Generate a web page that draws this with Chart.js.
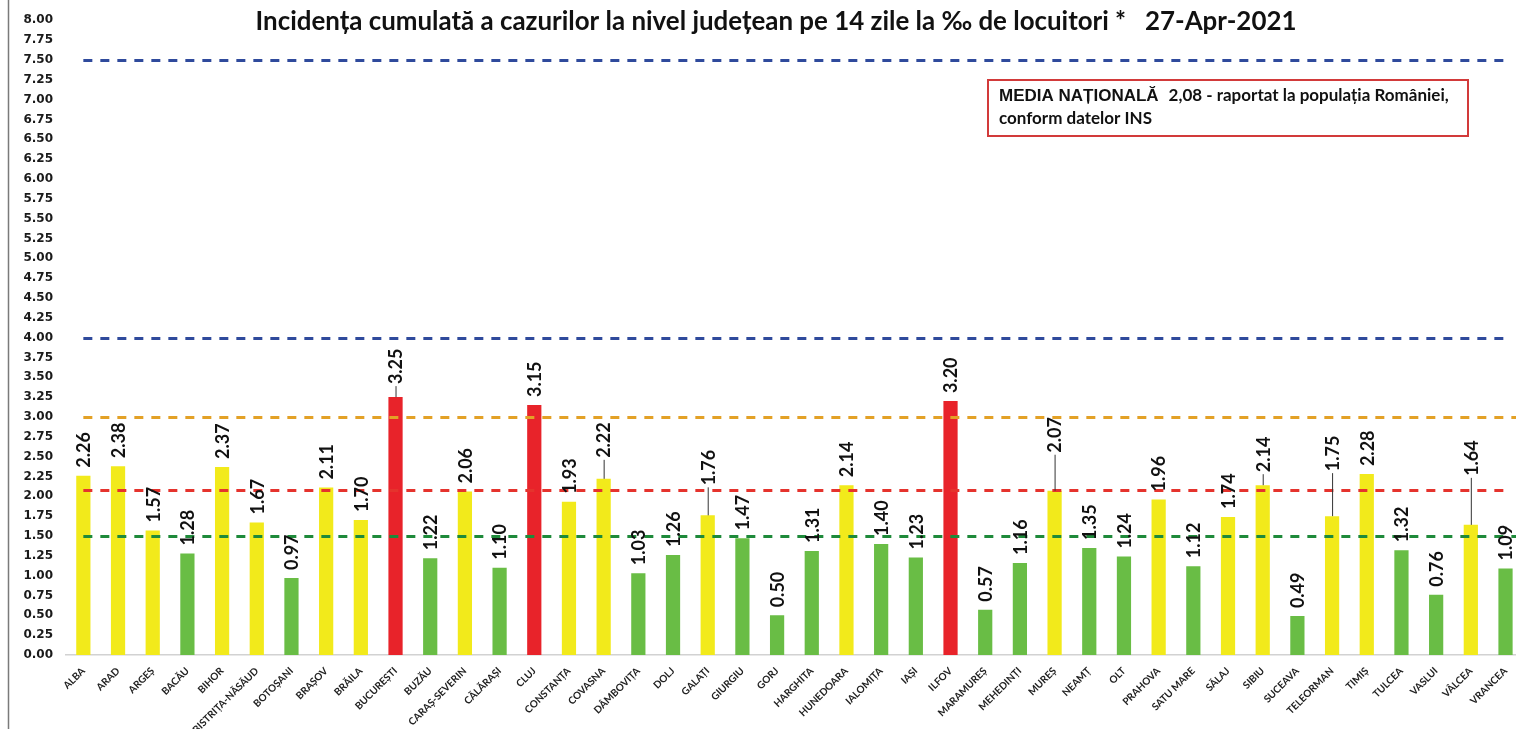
<!DOCTYPE html>
<html>
<head>
<meta charset="utf-8">
<script src="https://cdn.jsdelivr.net/npm/chart.js@4.4.1/dist/chart.umd.min.js"></script>
<style>
  html, body { margin: 0; padding: 0; background: #fff; overflow: hidden; }
  #wrap { position: relative; width: 1524px; height: 729px; }
</style>
</head>
<body>
<div id="wrap"><canvas id="myChart" width="1524" height="729"></canvas></div>
<script>
const judete = ['ALBA', 'ARAD', 'ARGEȘ', 'BACĂU', 'BIHOR', 'BISTRIȚA-NĂSĂUD', 'BOTOȘANI', 'BRAȘOV',
  'BRĂILA', 'BUCUREȘTI', 'BUZĂU', 'CARAȘ-SEVERIN', 'CĂLĂRAȘI', 'CLUJ', 'CONSTANȚA', 'COVASNA',
  'DÂMBOVIȚA', 'DOLJ', 'GALAȚI', 'GIURGIU', 'GORJ', 'HARGHITA', 'HUNEDOARA', 'IALOMIȚA', 'IAȘI',
  'ILFOV', 'MARAMUREȘ', 'MEHEDINȚI', 'MUREȘ', 'NEAMȚ', 'OLT', 'PRAHOVA', 'SATU MARE', 'SĂLAJ',
  'SIBIU', 'SUCEAVA', 'TELEORMAN', 'TIMIȘ', 'TULCEA', 'VASLUI', 'VÂLCEA', 'VRANCEA'];

const incidenta = [2.26, 2.38, 1.57, 1.28, 2.37, 1.67, 0.97, 2.11,
  1.70, 3.25, 1.22, 2.06, 1.10, 3.15, 1.93, 2.22,
  1.03, 1.26, 1.76, 1.47, 0.50, 1.31, 2.14, 1.40, 1.23,
  3.20, 0.57, 1.16, 2.07, 1.35, 1.24, 1.96, 1.12, 1.74,
  2.14, 0.49, 1.75, 2.28, 1.32, 0.76, 1.64, 1.09];

// praguri: 7.5 / 4 / 3 / media nationala 2.08 / 1.5
const praguri = [7.5, 4.0, 3.0, 2.08, 1.5];
const mediaNationala = '2,08';

const titlu = 'Incidența cumulată a cazurilor la nivel județean pe 14 zile la ‰ de locuitori *   27-Apr-2021';

// stiluri pentru liniile de prag (aceeasi ordine ca praguri)
const stilPraguri = [
  { culoare: '#2F4A9C', panaLaCapat: false },
  { culoare: '#2F4A9C', panaLaCapat: false },
  { culoare: '#E3A126', panaLaCapat: true },
  { culoare: '#E5332D', panaLaCapat: false },
  { culoare: '#1E8A3A', panaLaCapat: true }
];

// etichete ridicate cu linie de legatura (px)
const ridicare = { 'BUCUREȘTI': 5, 'COVASNA': 13, 'GALAȚI': 22, 'MUREȘ': 30, 'SIBIU': 5, 'TELEORMAN': 37, 'VÂLCEA': 41 };

function culoare(v) {
  if (v > 3) return '#E8232A';
  if (v >= 1.5) return '#F2EA1B';
  return '#69BD45';
}

const extra = {
  id: 'extra',
  afterDatasetsDraw(chart) {
    const { ctx, chartArea, scales: { x, y } } = chart;
    const x0 = x.getPixelForValue(0);
    const xUltim = x.getPixelForValue(judete.length - 1);

    ctx.save();
    // liniile punctate
    ctx.lineWidth = 3;
    ctx.setLineDash([9, 8]);
    praguri.forEach((p, i) => {
      const py = Math.round(y.getPixelForValue(p)) + 0.5;
      ctx.strokeStyle = stilPraguri[i].culoare;
      ctx.beginPath();
      ctx.moveTo(x0, py);
      ctx.lineTo(stilPraguri[i].panaLaCapat ? chartArea.right : xUltim, py);
      ctx.stroke();
    });
    ctx.setLineDash([]);

    // valorile deasupra barelor
    const meta = chart.getDatasetMeta(0);
    ctx.font = 'bold 18px Lato';
    ctx.fillStyle = '#111';
    ctx.textAlign = 'left';
    ctx.textBaseline = 'middle';
    meta.data.forEach((bar, i) => {
      const lift = ridicare[judete[i]] || 0;
      const baza = bar.y - 8 - lift;
      if (lift) {
        ctx.strokeStyle = '#333';
        ctx.lineWidth = 1;
        ctx.beginPath();
        ctx.moveTo(bar.x + 0.5, bar.y);
        ctx.lineTo(bar.x + 0.5, baza + 2);
        ctx.stroke();
      }
      ctx.save();
      ctx.translate(bar.x + 1, baza);
      ctx.rotate(-Math.PI / 2);
      ctx.fillText(incidenta[i].toFixed(2), 0, 0);
      ctx.restore();
    });
    ctx.restore();
  },
  afterDraw(chart) {
    const { ctx } = chart;
    ctx.save();
    // rama din stanga
    ctx.strokeStyle = '#7a7a7a';
    ctx.lineWidth = 1.5;
    ctx.beginPath();
    ctx.moveTo(8.5, 0);
    ctx.lineTo(8.5, 729);
    ctx.stroke();

    // titlu, adus la latimea din original
    ctx.fillStyle = '#111';
    ctx.font = 'bold 20px Lato';
    const marime = 20 * 1040 / ctx.measureText(titlu).width;
    ctx.font = 'bold ' + marime.toFixed(1) + 'px Lato';
    ctx.textAlign = 'center';
    ctx.textBaseline = 'middle';
    ctx.fillText(titlu, 776, 22);

    // caseta media nationala
    ctx.strokeStyle = '#D23A3A';
    ctx.lineWidth = 2;
    ctx.strokeRect(988, 80, 480, 56);
    ctx.textAlign = 'left';
    ctx.font = 'bold 17px "Liberation Sans"';
    const t1 = 'MEDIA NAȚIONALĂ';
    ctx.fillText(t1, 999, 96);
    let px = 999 + ctx.measureText(t1).width + 10;
    ctx.font = 'bold 17px Lato';
    ctx.fillText(mediaNationala + ' - raportat la populația României,', px, 96);
    ctx.fillText('conform datelor INS', 999, 119);
    ctx.restore();
  }
};

const ctx = document.getElementById('myChart');

new Chart(ctx, {
  type: 'bar',
  data: {
    labels: judete,
    datasets: [{
      data: incidenta,
      backgroundColor: incidenta.map(culoare),
      borderWidth: 0,
      barPercentage: 0.41,
      categoryPercentage: 1
    }]
  },
  options: {
    responsive: false,
    animation: false,
    devicePixelRatio: 1,
    layout: { padding: { top: 16, left: 22, right: 0, bottom: 0 } },
    plugins: {
      legend: { display: false },
      tooltip: { enabled: false }
    },
    scales: {
      y: {
        min: 0,
        max: 8,
        afterFit(s) { s.width = 44; },
        grid: { display: false, drawTicks: false },
        border: { display: false },
        ticks: {
          stepSize: 0.25,
          autoSkip: false,
          padding: 13,
          color: '#1a1a1a',
          font: { family: 'DejaVu Sans', weight: 'bold', size: 12 },
          callback: v => v.toFixed(2)
        }
      },
      x: {
        afterFit(s) { s.height = 74; },
        grid: { display: false, drawTicks: false },
        border: { display: true, color: '#d2d2d2', width: 1.5 },
        ticks: {
          autoSkip: false,
          minRotation: 45,
          maxRotation: 45,
          padding: 10,
          color: '#222',
          font: { family: 'Lato', weight: 'bold', size: 10 }
        }
      }
    }
  },
  plugins: [extra]
});
</script>
</body>
</html>
